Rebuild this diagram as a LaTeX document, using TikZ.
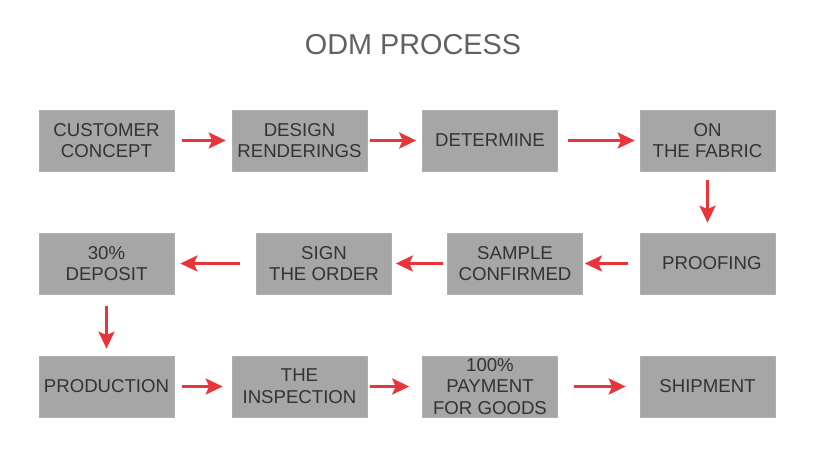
\documentclass[tikz,border=0pt]{standalone}
\usepackage{fontspec}
\setmainfont{Liberation Sans}
\usepackage{xcolor}
\usepackage{tikz}
\usetikzlibrary{arrows.meta,positioning}
\definecolor{stepgray}{HTML}{A6A6A6}
\definecolor{steptext}{HTML}{333333}
\definecolor{odmred}{HTML}{E8353A}

\begin{document}
\begin{tikzpicture}[
  x=0.02cm, y=-0.02cm,
  stepbox/.style={fill=stepgray, draw=stepgray!90!white, minimum width=2.7cm,
    minimum height=1.22cm, inner sep=1pt, align=center, text=steptext,
    font=\fontsize{10.6}{12.4}\selectfont},
  ttl/.style={font=\fontsize{16.4}{18}\selectfont, text=black!62},
  arr/.style={-{Stealth[length=0.34cm, width=0.32cm, inset=0.07cm]},
    line width=1.6pt, odmred, shorten <=0.16cm, shorten >=0.12cm}
]
  \useasboundingbox (0,0) rectangle (816,463);

  \node[ttl] (title) at (413,45) {ODM PROCESS};

  % first row
  \node[stepbox] (concept) at (106.5,140.5) {CUSTOMER\\CONCEPT};
  \node[stepbox] (render)  at (299.5,140.5) {DESIGN\\RENDERINGS};
  \node[stepbox] (determ)  at (490,140.5)   {DETERMINE};
  \node[stepbox] (fabric)  at (707.5,140.5) {ON\\THE FABRIC};

  % second row
  \node[stepbox] (deposit) at (106.5,263.5) {30\%\\DEPOSIT};
  \node[stepbox] (sign)    at (324,263.5)   {SIGN\\THE ORDER};
  \node[stepbox] (sample)  at (515,263.5)   {SAMPLE\\CONFIRMED};
  \node[stepbox] (proof)   at (707.5,263.5) {\hspace*{5pt}PROOFING};

  % third row
  \node[stepbox] (product) at (106.5,386.5) {PRODUCTION};
  \node[stepbox] (inspect) at (299.5,386.5) {THE\\INSPECTION};
  \node[stepbox] (payment) at (490,386.5)   {100\%\\PAYMENT\\FOR GOODS};
  \node[stepbox] (ship)    at (707.5,386.5) {SHIPMENT};

  \draw[arr] (concept) -- (render);
  \draw[arr, shorten <=0.06cm] (render) -- (determ);
  \draw[arr, shorten <=0.2cm, shorten >=0.1cm] (determ) -- (fabric);
  \draw[arr, shorten <=0.18cm, shorten >=0.2cm] (fabric) -- (proof);
  \draw[arr, shorten <=0.24cm, shorten >=0.04cm] (proof) -- (sample);
  \draw[arr, shorten <=0.08cm, shorten >=0.08cm] (sample) -- (sign);
  \draw[arr, shorten <=0.32cm] (sign) -- (deposit);
  \draw[arr, shorten <=0.24cm, shorten >=0.14cm] (deposit) -- (product);
  \draw[arr, shorten >=0.18cm] (product) -- (inspect);
  \draw[arr, shorten <=0.06cm, shorten >=0.26cm] (inspect) -- (payment);
  \draw[arr, shorten <=0.32cm, shorten >=0.28cm] (payment) -- (ship);
\end{tikzpicture}
\end{document}
